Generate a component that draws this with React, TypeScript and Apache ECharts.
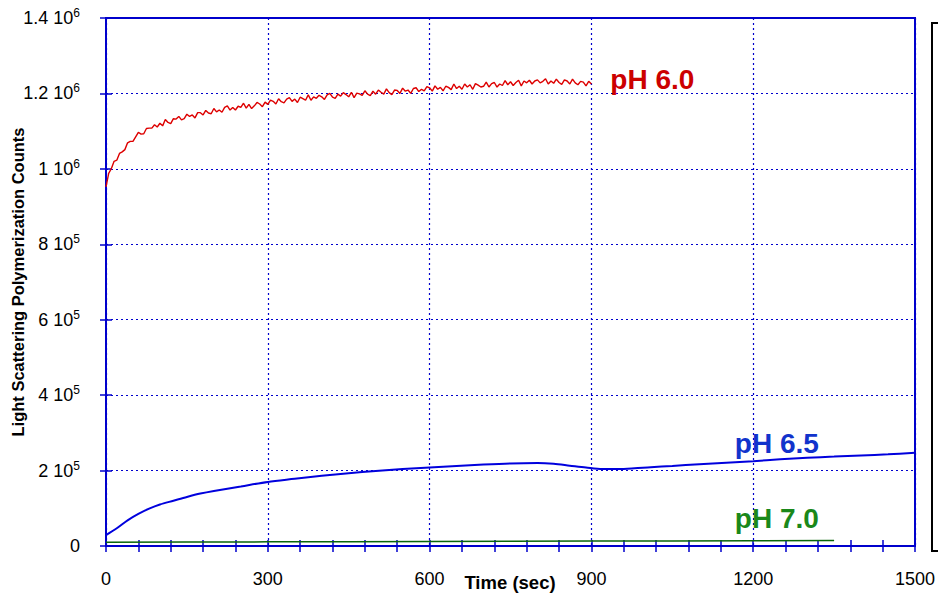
import React, { useEffect, useRef } from "react";
import * as echarts from "echarts";

// pH 6.0 — sampled every 5 s from 0 to 900 s (counts × 1000)
const redStep = 5;
const redValues = [
  952, 988, 1001, 1020, 1023, 1041, 1045, 1051, 1069, 1073, 1073, 1085, 1097, 1092, 1093, 1107, 1108, 1108, 1117, 1111,
  1121, 1114, 1131, 1123, 1120, 1133, 1132, 1139, 1130, 1133, 1145, 1139, 1143, 1135, 1149, 1149, 1143, 1155, 1148, 1146,
  1160, 1151, 1156, 1150, 1163, 1167, 1156, 1163, 1156, 1166, 1163, 1174, 1161, 1171, 1160, 1167, 1176, 1172, 1165, 1177,
  1171, 1182, 1179, 1172, 1186, 1178, 1175, 1185, 1189, 1179, 1185, 1176, 1190, 1186, 1182, 1196, 1182, 1191, 1187, 1195,
  1191, 1184, 1196, 1200, 1190, 1187, 1198, 1193, 1202, 1197, 1191, 1203, 1189, 1201, 1199, 1195, 1207, 1198, 1194, 1206,
  1198, 1209, 1203, 1198, 1212, 1202, 1197, 1209, 1208, 1200, 1214, 1206, 1209, 1200, 1213, 1215, 1205, 1211, 1207, 1218,
  1215, 1206, 1220, 1211, 1216, 1207, 1219, 1216, 1210, 1225, 1213, 1219, 1211, 1225, 1217, 1223, 1211, 1226, 1222, 1217,
  1219, 1230, 1217, 1226, 1229, 1217, 1225, 1221, 1234, 1223, 1231, 1221, 1229, 1235, 1220, 1233, 1228, 1235, 1225, 1233,
  1236, 1228, 1232, 1239, 1225, 1233, 1227, 1238, 1229, 1224, 1236, 1233, 1225, 1238, 1228, 1223, 1232, 1230, 1220, 1232,
  1225,
];

// pH 6.5 (counts × 1000)
const blueTimes = [
  0, 20, 40, 60, 80, 100, 125, 150, 175, 200, 250, 300, 350, 400, 450, 500,
  550, 600, 650, 700, 750, 800, 830, 860, 890, 920, 950, 980, 1010, 1050,
  1100, 1150, 1200, 1250, 1300, 1350, 1400, 1450, 1500,
];
const blueValues = [
  29, 47, 68, 85, 99, 110, 120, 130, 139, 146, 158, 170, 178, 186, 193, 199,
  204, 208, 212, 216, 219, 220, 218, 213, 208, 204, 204, 206, 209, 212,
  217, 221, 225, 230, 234, 237, 240, 243, 247,
];

// pH 7.0 (counts × 1000)
const greenTimes = [0, 150, 300, 450, 600, 750, 900, 1050, 1200, 1350];
const greenValues = [10, 10.5, 11, 11.5, 12, 12.5, 13, 13.5, 14, 14.5];

const xTicks = { min: 0, max: 1500, interval: 300 };
const yTicks = { min: 0, max: 1400000, interval: 200000 };

const seriesLabels = ["pH 6.0", "pH 6.5", "pH 7.0"];
const xTitle = "Time (sec)";
const yTitle = "Light Scattering Polymerization Counts";

const BLUE = "#0000cc";
const FONT = "Liberation Sans, Arial, sans-serif";

export default function App() {
  const ref = useRef<HTMLDivElement>(null);

  useEffect(() => {
    if (!ref.current) return;
    const chart = echarts.init(ref.current, undefined, { renderer: "svg" });

    const redData = redValues.map((v, i) => [i * redStep, v * 1000]);
    const blueData = blueTimes.map((t, i) => [t, blueValues[i] * 1000]);
    const greenData = greenTimes.map((t, i) => [t, greenValues[i] * 1000]);

    const yFmt = (v: number) => {
      if (v === 0) return "{n|0}";
      const e = Math.floor(Math.log10(v) + 1e-9);
      const m = Math.round((v / Math.pow(10, e)) * 10) / 10;
      return `{n|${m} 10}{sup|${e}}`;
    };

    const tickStyle = { show: true, inside: true, length: 6, lineStyle: { color: BLUE, width: 1.5 } };
    const splitStyle = { show: true, lineStyle: { color: BLUE, type: [2, 3] as any, width: 1.2 } };

    const labelPoint = (name: string, coord: number[], color: string) => ({
      symbol: "circle",
      symbolSize: 0,
      data: [
        {
          coord,
          label: {
            show: true,
            formatter: name,
            position: "right",
            distance: 0,
            color,
            fontSize: 28,
            fontWeight: "bold",
            fontFamily: FONT,
          },
        },
      ],
    });

    chart.setOption({
      animation: false,
      backgroundColor: "#ffffff",
      grid: {
        left: 106,
        right: 23,
        top: 18,
        bottom: 48,
        containLabel: false,
        outerBoundsMode: "none",
        show: true,
        borderColor: BLUE,
        borderWidth: 2,
      },
      xAxis: [
        {
          type: "value",
          ...xTicks,
          position: "bottom",
          axisLine: { show: true, lineStyle: { color: BLUE, width: 2 } },
          axisTick: tickStyle,
          minorTick: { show: true, splitNumber: 5, length: 6, lineStyle: { color: BLUE, width: 1.5 } },
          axisLabel: { color: "#000", fontSize: 18, margin: 24, fontFamily: FONT, formatter: (v: number) => String(v) },
          splitLine: splitStyle,
        },
        {
          type: "value",
          ...xTicks,
          position: "top",
          axisLine: { show: true, lineStyle: { color: BLUE, width: 2 } },
          axisTick: tickStyle,
          minorTick: { show: true, splitNumber: 5, length: 6, lineStyle: { color: BLUE, width: 1.5 } },
          axisLabel: { show: false },
          splitLine: { show: false },
        },
      ],
      yAxis: [
        {
          type: "value",
          ...yTicks,
          position: "left",
          name: yTitle,
          nameLocation: "middle",
          nameGap: 80,
          nameMoveOverlap: false,
          nameTextStyle: { color: "#000", fontSize: 16.5, fontWeight: "bold", fontFamily: FONT },
          axisLine: { show: true, lineStyle: { color: BLUE, width: 2 } },
          axisTick: tickStyle,
          axisLabel: {
            color: "#000",
            fontSize: 18,
            margin: 26,
            fontFamily: FONT,
            formatter: yFmt,
            rich: {
              n: { fontSize: 18, color: "#000", fontFamily: FONT },
              sup: { fontSize: 12, padding: [0, 0, 10, 0], color: "#000", fontFamily: FONT },
            },
          },
          splitLine: splitStyle,
        },
        {
          type: "value",
          ...yTicks,
          position: "right",
          axisLine: { show: true, lineStyle: { color: BLUE, width: 2 } },
          axisTick: tickStyle,
          axisLabel: { show: false },
          splitLine: { show: false },
        },
      ],
      series: [
        {
          name: seriesLabels[0],
          type: "line",
          data: redData,
          showSymbol: false,
          lineStyle: { color: "#dd0000", width: 1.4 },
          itemStyle: { color: "#dd0000" },
          markPoint: labelPoint(seriesLabels[0], [935, 1236000], "#cc0000"),
          z: 3,
        },
        {
          name: seriesLabels[1],
          type: "line",
          data: blueData,
          showSymbol: false,
          smooth: 0.3,
          lineStyle: { color: "#0000dd", width: 2 },
          itemStyle: { color: "#0000dd" },
          markPoint: labelPoint(seriesLabels[1], [1166, 273000], "#1133cc"),
          z: 3,
        },
        {
          name: seriesLabels[2],
          type: "line",
          data: greenData,
          showSymbol: false,
          lineStyle: { color: "#0a660a", width: 1.5 },
          itemStyle: { color: "#0a660a" },
          markPoint: labelPoint(seriesLabels[2], [1166, 74000], "#1a881a"),
          z: 3,
        },
      ],
      graphic: [
        {
          type: "text",
          x: 510,
          y: 582,
          style: {
            text: xTitle,
            fill: "#000",
            fontSize: 18.5,
            fontWeight: "bold",
            fontFamily: FONT,
            align: "center",
            verticalAlign: "middle",
          },
        },
        {
          type: "rect",
          shape: { x: 932, y: 23, width: 30, height: 528 },
          style: { fill: "none", stroke: "#000", lineWidth: 2 },
        },
      ],
    });

    return () => chart.dispose();
  }, []);

  return (
    <div
      ref={ref}
      style={{ position: "fixed", left: 0, top: 0, width: 938, height: 594, background: "#fff" }}
    />
  );
}
